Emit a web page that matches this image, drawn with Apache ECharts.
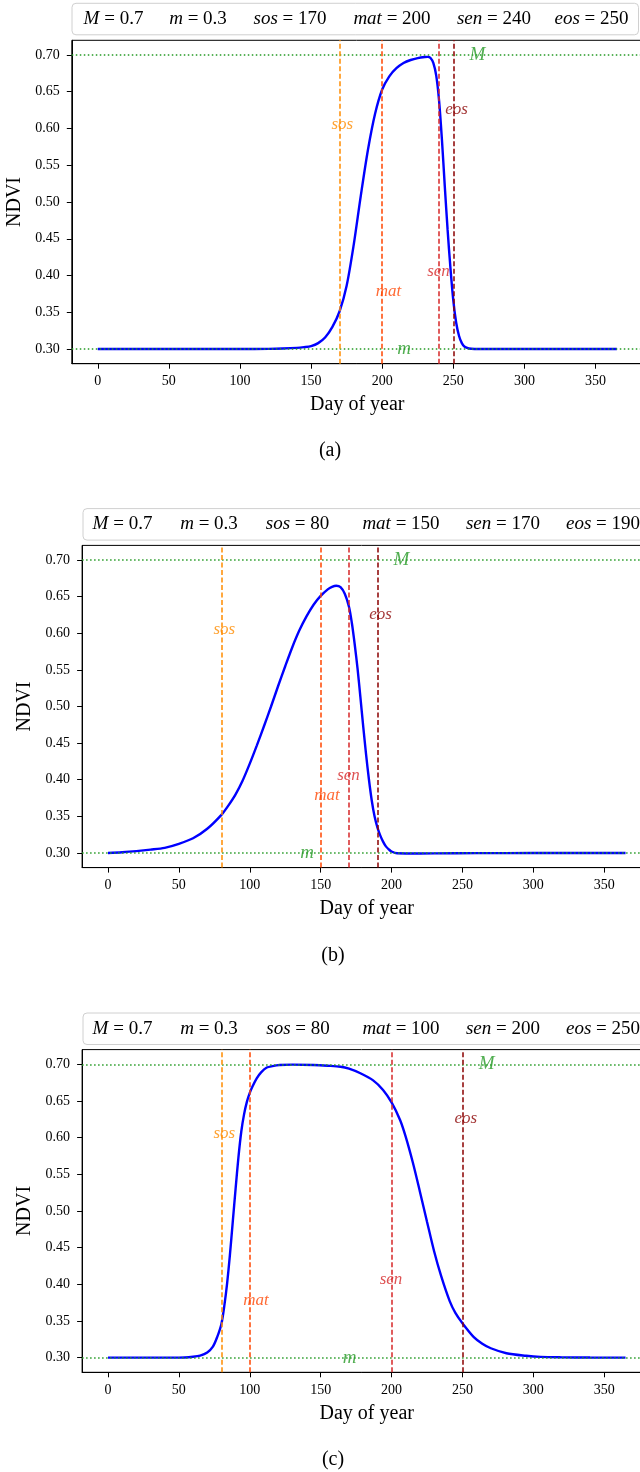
<!DOCTYPE html>
<html><head><meta charset="utf-8">
<script src="https://cdn.jsdelivr.net/npm/echarts@6/dist/echarts.min.js"></script>
<style>html,body{margin:0;padding:0;background:#fff}#c{width:640px;height:1472px}</style>
</head><body><div id="c"></div>
<script>
// ---- data ----
const panelNames = ['(a)', '(b)', '(c)'];
const paramM = [0.7, 0.7, 0.7];
const paramMin = [0.3, 0.3, 0.3];
const sos = [170, 80, 80];
const mat = [200, 150, 100];
const sen = [240, 170, 200];
const eos = [250, 190, 250];
const xTicks = [0, 50, 100, 150, 200, 250, 300, 350];
const yTicks = [0.30, 0.35, 0.40, 0.45, 0.50, 0.55, 0.60, 0.65, 0.70];

const daysA = [0, 50, 100, 120, 130, 140, 145, 150, 155, 160, 165, 170, 175, 180, 185, 190, 195, 200, 205, 210, 215, 220, 225, 230, 232, 234, 236, 238, 240, 242, 244, 246, 248, 250, 252, 254, 256, 258, 261, 265, 280, 320, 365];
const ndviA = [0.300, 0.300, 0.300, 0.3002, 0.3006, 0.3015, 0.3025, 0.304, 0.308, 0.316, 0.330, 0.351, 0.386, 0.442, 0.509, 0.571, 0.620, 0.653, 0.671, 0.682, 0.689, 0.6932, 0.6958, 0.6973, 0.6975, 0.696, 0.689, 0.672, 0.638, 0.585, 0.522, 0.462, 0.410, 0.366, 0.336, 0.318, 0.308, 0.303, 0.3007, 0.3001, 0.300, 0.300, 0.300];

const daysB = [0, 10, 20, 30, 40, 50, 60, 70, 80, 85, 90, 95, 100, 105, 110, 115, 120, 125, 130, 135, 140, 145, 150, 155, 158, 161, 164, 167, 170, 172, 174, 176, 178, 180, 182, 184, 186, 188, 190, 192, 194, 196, 198, 200, 204, 210, 230, 260, 300, 365];
const ndviB = [0.300, 0.301, 0.3025, 0.3045, 0.307, 0.3125, 0.320, 0.333, 0.352, 0.365, 0.380, 0.399, 0.422, 0.447, 0.473, 0.500, 0.528, 0.555, 0.581, 0.604, 0.623, 0.639, 0.651, 0.660, 0.6635, 0.665, 0.663, 0.654, 0.636, 0.614, 0.585, 0.552, 0.513, 0.473, 0.435, 0.401, 0.372, 0.350, 0.335, 0.324, 0.3155, 0.309, 0.305, 0.302, 0.2995, 0.2993, 0.2994, 0.2997, 0.2999, 0.300];

const daysC = [0, 50, 60, 65, 70, 74, 77, 80, 82, 84, 86, 88, 90, 92, 94, 96, 98, 100, 102, 105, 108, 112, 116, 121, 130, 145, 155, 164, 170, 178, 187, 194, 200, 206, 210, 215, 220, 225, 230, 235, 241, 245, 250, 258, 264, 270, 281, 295, 305, 320, 340, 365];
const ndviC = [0.300, 0.300, 0.3012, 0.3027, 0.307, 0.315, 0.328, 0.346, 0.370, 0.401, 0.440, 0.485, 0.530, 0.573, 0.608, 0.632, 0.649, 0.661, 0.670, 0.681, 0.689, 0.6955, 0.6975, 0.699, 0.6995, 0.699, 0.698, 0.6967, 0.694, 0.6877, 0.678, 0.665, 0.648, 0.624, 0.601, 0.566, 0.5263, 0.4854, 0.445, 0.411, 0.377, 0.361, 0.3469, 0.328, 0.319, 0.3128, 0.306, 0.3025, 0.301, 0.3004, 0.3001, 0.300];

const allDays = [daysA, daysB, daysC];
const allNdvi = [ndviA, ndviB, ndviC];

// ---- style / layout ----
const SERIF = "'Liberation Serif', 'DejaVu Serif', serif";
const GREEN = '#259a25';
const COLORS = { sos: '#ff8c00', mat: '#ff4500', sen: '#d62728', eos: '#8b0000' };
const LABEL_POS = { sos: { dx: 2, y: 0.605 }, mat: { dx: 4.4, y: 0.378 }, sen: { dx: -0.4, y: 0.406 }, eos: { dx: 2.3, y: 0.626 } };
const layout = [
  { left: 71.8, top: 40.3, width: 571, height: 323.4, box: [72, 3.3, 566.5, 31.5], items: [113.5, 198, 290, 392, 494, 591.5], cap: [330, 451] },
  { left: 82.1, top: 545.4, width: 569.3, height: 322.2, box: [83, 508.6, 600, 31.5], items: [122.5, 209, 297.5, 401, 503, 603], cap: [333, 956] },
  { left: 82.1, top: 1049.6, width: 569.3, height: 322.7, box: [83, 1013, 600, 31.5], items: [122.5, 209, 298, 401, 503, 603], cap: [333, 1460] }
];

const grids = [], xAxes = [], yAxes = [], series = [], graphics = [];
for (let i = 0; i < 3; i++) {
  const L = layout[i];
  grids.push({ left: L.left, top: L.top, width: L.width, height: L.height, show: true, borderColor: '#000', borderWidth: 1, backgroundColor: 'transparent', containLabel: false, outerBoundsMode: 'none' });
  xAxes.push({
    type: 'value', gridIndex: i, min: -18.25, max: 383.25,
    axisLine: { show: true, onZero: false, lineStyle: { color: '#000', width: 1 } },
    axisTick: { show: true, customValues: xTicks, length: 5, lineStyle: { color: '#000', width: 1 } },
    axisLabel: { show: true, customValues: xTicks, margin: 11, fontFamily: SERIF, fontSize: 14, color: '#000' },
    splitLine: { show: false },
    name: 'Day of year', nameLocation: 'middle', nameGap: 31,
    nameTextStyle: { fontFamily: SERIF, fontSize: 20, color: '#000' }
  });
  yAxes.push({
    type: 'value', gridIndex: i, min: 0.28, max: 0.72,
    axisLine: { show: true, onZero: false, lineStyle: { color: '#000', width: 1 } },
    axisTick: { show: true, customValues: yTicks, length: 5, lineStyle: { color: '#000', width: 1 } },
    axisLabel: { show: true, customValues: yTicks, margin: 12, fontFamily: SERIF, fontSize: 14, color: '#000', formatter: v => v.toFixed(2) },
    splitLine: { show: false },
    name: 'NDVI', nameLocation: 'middle', nameGap: 41,
    nameTextStyle: { fontFamily: SERIF, fontSize: 20, color: '#000' }
  });

  const events = { sos: sos[i], mat: mat[i], sen: sen[i], eos: eos[i] };
  const dashed = k => ({ xAxis: events[k], lineStyle: { color: COLORS[k], type: [5, 2.5], width: 1.5 } });
  const dotted = v => ({ yAxis: v, lineStyle: { color: GREEN, type: [1.5, 2.5], width: 1.6 } });
  series.push({
    type: 'line', xAxisIndex: i, yAxisIndex: i, data: [], z: 1, silent: true,
    markLine: { symbol: ['none', 'none'], silent: true, animation: false, label: { show: false },
      data: [dotted(paramM[i]), dotted(paramMin[i]), dashed('sos'), dashed('mat'), dashed('sen'), dashed('eos')] }
  });

  const lbl = (name, x, y, color, size) => ({ value: [x, y], label: { formatter: name, color: color, fontSize: size } });
  const labelData = ['sos', 'mat', 'sen', 'eos'].map(k => lbl(k, events[k] + LABEL_POS[k].dx, LABEL_POS[k].y, COLORS[k], 17));
  labelData.push(lbl('M', eos[i] + 17, paramM[i], GREEN, 19));
  labelData.push(lbl('m', (sos[i] + eos[i]) / 2 + 5.5, paramMin[i], GREEN, 19));
  series.push({
    type: 'scatter', xAxisIndex: i, yAxisIndex: i, z: 3, silent: true, symbolSize: 1,
    itemStyle: { color: 'rgba(0,0,0,0)' },
    label: { show: true, position: 'inside', fontFamily: SERIF, fontStyle: 'italic', backgroundColor: '#fff', padding: [1, 1, 1, 1] },
    data: labelData
  });

  series.push({
    type: 'line', xAxisIndex: i, yAxisIndex: i, z: 4, silent: true,
    data: allDays[i].map((d, k) => [d, allNdvi[i][k]]),
    showSymbol: false, smooth: 0.3, lineStyle: { color: '#0000ff', width: 2.4 }
  });

  // legend box
  graphics.push({ type: 'rect', shape: { x: L.box[0], y: L.box[1], width: L.box[2], height: L.box[3], r: 4 },
    style: { fill: '#fff', stroke: '#d0d0d0', lineWidth: 1 }, z: 10 });
  const texts = [
    '{i|M} = ' + paramM[i], '{i|m} = ' + paramMin[i], '{i|sos} = ' + sos[i],
    '{i|mat} = ' + mat[i], '{i|sen} = ' + sen[i], '{i|eos} = ' + eos[i]
  ];
  texts.forEach((t, k) => {
    graphics.push({ type: 'text', x: L.items[k], y: L.box[1] + L.box[3] / 2, z: 11,
      style: { text: t, fontFamily: SERIF, fontSize: 19, fill: '#000', align: 'center', verticalAlign: 'middle',
        textAlign: 'center', textVerticalAlign: 'middle',
        rich: { i: { fontFamily: SERIF, fontSize: 19, fontStyle: 'italic', fill: '#000' } } } });
  });
  graphics.push({ type: 'text', x: L.cap[0], y: L.cap[1], z: 11,
    style: { text: panelNames[i], fontFamily: SERIF, fontSize: 20, fill: '#000', align: 'center', verticalAlign: 'middle',
      textAlign: 'center', textVerticalAlign: 'middle' } });
}

const chart = echarts.init(document.getElementById('c'), null, { renderer: 'canvas', width: 640, height: 1472 });
chart.setOption({
  animation: false,
  backgroundColor: '#fff',
  grid: grids, xAxis: xAxes, yAxis: yAxes, series: series, graphic: graphics
});
</script>
</body></html>
